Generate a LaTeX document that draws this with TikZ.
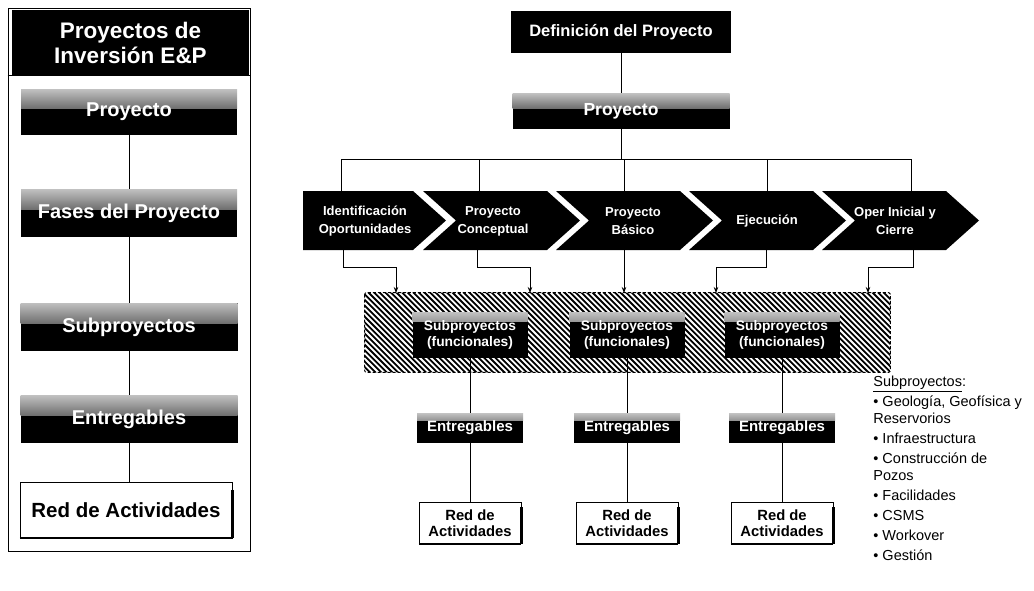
\documentclass[tikz,border=0pt]{standalone}
\usepackage{fontspec}
\setmainfont{Liberation Sans}
\usetikzlibrary{arrows.meta,calc}
\newcommand{\fs}[2]{\fontsize{#1}{#2}\selectfont}
\begin{document}
\begin{tikzpicture}[x=1pt,y=-1pt,
  line width=0.8pt,
  blackbox/.style={fill=black,text=white,font=\bfseries,inner sep=0pt,align=center},
  grainy/.style={path picture={\shade[top color=gray!50,bottom color=black]
      (path picture bounding box.north west) rectangle
      ($(path picture bounding box.north east)!#1!(path picture bounding box.south east)$);}},
  grainy/.default=0.42,
  whitebox/.style={fill=white,draw=black,line width=0.5pt,inner sep=0pt,align=center,font=\bfseries},
  chevtext/.style={text=white,font=\bfseries\fs{13}{18},align=center,inner sep=0pt},
  hatchborder/.style={draw=black,dash pattern=on 3pt off 2pt,line width=0.9pt,rounded corners=2pt},
  hatchline/.style={line width=1.8pt},
  arr/.style={-{Stealth[length=6pt,width=4.5pt]}}
]
\useasboundingbox (0,0) rectangle (1034,590);

% ---------- left panel: levels of the breakdown ----------
\node[draw,line width=1pt,minimum width=242,minimum height=543,inner sep=0pt] (frame) at (129,279.5) {};
\node[blackbox,minimum width=237,minimum height=65,font=\bfseries\fs{22.5}{25}] (title) at (130.5,42.5)
  {Proyectos de\\Inversión E\&P};
\draw (frame.west |- title.south) -- (frame.east |- title.south);

\node[blackbox,grainy,minimum width=216,minimum height=45,font=\bfseries\fs{20}{22}] (L1) at (129,112) {Proyecto};
\node[blackbox,grainy,minimum width=216,minimum height=47,font=\bfseries\fs{20}{22}] (L2) at (129,213) {Fases del Proyecto};
\node[blackbox,grainy,minimum width=217,minimum height=48,font=\bfseries\fs{20}{22}] (L3) at (129,327) {Subproyectos};
\node[blackbox,grainy,minimum width=217,minimum height=47,font=\bfseries\fs{20}{22}] (L4) at (129,419) {Entregables};
\node[whitebox,minimum width=212,minimum height=56,font=\bfseries\fs{20.5}{22}] (L5) at (126,510) {Red de Actividades};
\draw[line width=3pt] ([yshift=-8pt]L5.north east) -- (L5.south east);
\draw[line width=2pt] (L5.south west) -- (L5.south east);

\draw (L1.south) -- (L2.north);
\draw (L2.south) -- (L3.north);
\draw (L3.south) -- (L4.north);
\draw (L4.south) -- (L4.south |- L5.north);

% ---------- right: project definition ----------
\node[blackbox,minimum width=220,minimum height=42,font=\bfseries\fs{16.5}{18}] (def) at (621,32) {Definición del Proyecto};
\node[blackbox,grainy,minimum width=217,minimum height=35,font=\bfseries\fs{17.5}{20}] (proy) at (621,111) {Proyecto};
\draw (def.south) -- (proy.north);

% ---------- phase chevrons ----------
\fill (303,191) -- (413,191) -- (446,220.5) -- (413,250) -- (303,250) -- cycle;
\foreach \xl in {423,556,689,822}
  \fill (\xl,191) -- ++(124,0) -- ++(33,29.5) -- ++(-33,29.5) -- ++(-124,0) -- ++(33,-29.5) -- cycle;

\node[chevtext] (c1) at (365,221) {Identificación\\Oportunidades};
\node[chevtext] (c2) at (493,221) {Proyecto\\Conceptual};
\node[chevtext] (c3) at (633,221) {Proyecto\\Básico};
\node[chevtext] (c4) at (767,221) {Ejecución};
\node[chevtext] (c5) at (895,221) {Oper Inicial y\\Cierre};

% tops and bottoms of the chevrons where connectors meet them
\coordinate (t1) at (341,191); \coordinate (t2) at (479,191); \coordinate (t3) at (624,191);
\coordinate (t4) at (767,191); \coordinate (t5) at (911,191);
\coordinate (b1) at (343,250); \coordinate (b2) at (477,250); \coordinate (b3) at (624,250);
\coordinate (b4) at (766,250); \coordinate (b5) at (913,250);
\coordinate (bus) at (621,159);

\draw (proy.south) -- (proy.south |- bus);
\draw (t1 |- bus) -- (t5 |- bus);
\foreach \t in {t1,t2,t3,t4,t5} \draw (\t |- bus) -- (\t);

% ---------- functional subprojects: hatched band ----------
\node[fill=white,minimum width=525,minimum height=79,inner sep=0pt] (H) at (627.5,332.5) {};
\begin{scope}
  \clip[rounded corners=2pt] (H.north west) rectangle (H.south east);
  \foreach \k in {0,...,108}
    \draw[hatchline] ({280+5.6*\k},288) -- ++(90,90);
\end{scope}
\draw[hatchborder] (H.north west) rectangle (H.south east);

\coordinate (a1) at (396,293); \coordinate (a2) at (530,293); \coordinate (a3) at (624,293);
\coordinate (a4) at (716,293); \coordinate (a5) at (868,293);
\draw[arr] (b1) -- (b1 |- 0,267) -| (a1);
\draw[arr] (b2) -- (b2 |- 0,267) -| (a2);
\draw[arr] (b3) -- (a3);
\draw[arr] (b4) -- (b4 |- 0,267) -| (a4);
\draw[arr] (b5) -- (b5 |- 0,267) -| (a5);

\foreach \n/\x in {1/470,2/627,3/782}{
  \node[blackbox,grainy=0.2,minimum width=115,minimum height=45,font=\bfseries\fs{13.8}{15.5}] (S\n) at (\x,335)
    {Subproyectos\\(funcionales)};
  \node[blackbox,grainy=0.25,minimum width=106,minimum height=29,font=\bfseries\fs{15}{17}] (E\n) at (\x,428) {Entregables};
  \node[whitebox,minimum width=102,minimum height=41,font=\bfseries\fs{14.8}{16.5}] (R\n) at (\x,523) {Red de\\Actividades};
  \draw[line width=3pt] ([yshift=-5pt]R\n.north east) -- (R\n.south east);
  \draw[line width=2pt] (R\n.south west) -- (R\n.south east);
  \draw (S\n.south) -- (E\n.north);
  \draw (E\n.south) -- (R\n.north);
}

% ---------- list of subprojects ----------
\node[anchor=north west,align=left,inner sep=0pt,font=\fs{14.5}{17}] (leg) at (873,376)
  {\underline{Subproyectos}:\\[3pt]
   \textbullet\ Geología, Geofísica y\\
   Reservorios\\[3pt]
   \textbullet\ Infraestructura\\[3pt]
   \textbullet\ Construcción de\\
   Pozos\\[3pt]
   \textbullet\ Facilidades\\[3pt]
   \textbullet\ CSMS\\[3pt]
   \textbullet\ Workover\\[3pt]
   \textbullet\ Gestión};
\end{tikzpicture}
\end{document}
